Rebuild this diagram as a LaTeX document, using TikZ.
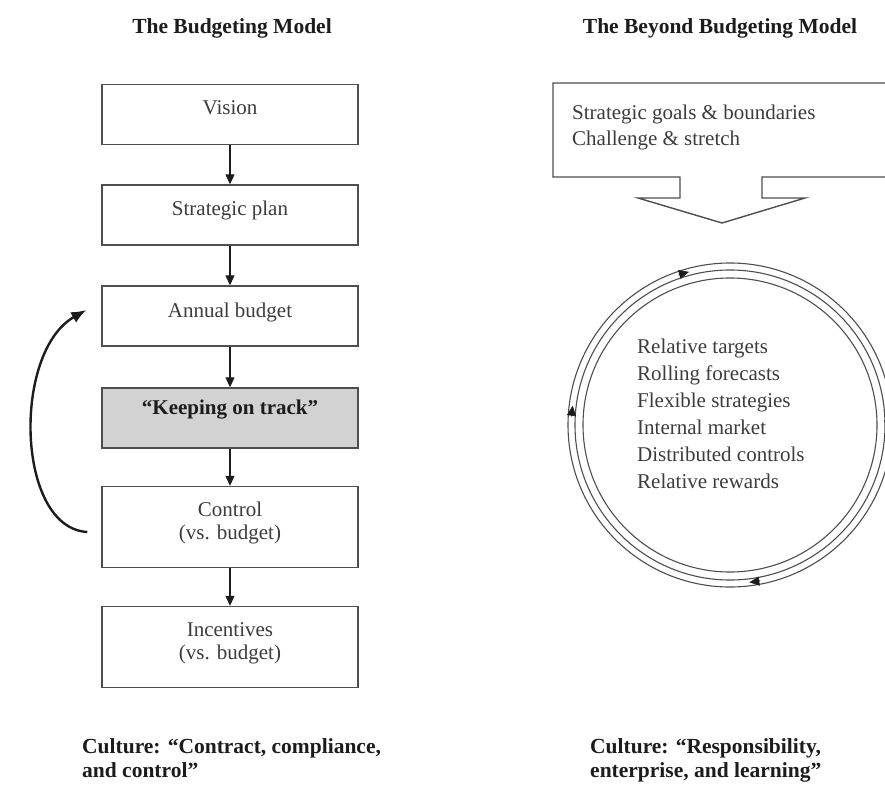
\documentclass[tikz,border=0pt]{standalone}
\usepackage{fontspec}
\setmainfont{Liberation Serif}
\usetikzlibrary{arrows.meta}

\definecolor{ink}{HTML}{3C3C3C}
\definecolor{rule}{HTML}{4E4E4E}
\definecolor{shade}{HTML}{D2D2D2}
\definecolor{dark}{HTML}{1C1C1C}

\begin{document}
\begin{tikzpicture}[x=1pt,y=-1pt,
  box/.style={draw=rule, line width=1.4pt, minimum width=256pt, minimum height=60pt, inner sep=0pt},
  tallbox/.style={box, minimum height=81pt},
  txt/.style={font=\fontsize{21}{26}\selectfont, text=ink, inner sep=0pt, anchor=base},
  listtxt/.style={txt, anchor=base west},
  head/.style={font=\fontsize{21.5}{26}\selectfont\bfseries, text=dark, inner sep=0pt, anchor=base},
  flow/.style={draw=dark, line width=1.1pt, -{Triangle[length=10pt,width=9pt]}},
  loopback/.style={draw=dark, line width=2.4pt, -{Latex[length=15pt,width=12pt]}},
  ring/.style={draw=rule, line width=1.1pt},
  ringtip/.style={draw=dark, line width=0.6pt, -{Triangle[length=10pt,width=9pt]}}
]
\useasboundingbox[fill=white] (0,0) rectangle (885,786);

% ---------- left column: the budgeting model ----------
\node[head] (lhead) at (232,34) {The Budgeting Model};

\node[box] (vision) at (230,114.5) {};
\node[box] (plan)   at (230,215) {};
\node[box] (annual) at (230,316) {};
\node[box, fill=shade] (keep) at (230,418) {};
\node[tallbox] (control) at (230,527) {};
\node[tallbox] (incent)  at (230,647) {};

\node[txt] (vision-t) at (230,115) {Vision};
\node[txt] (plan-t)   at (230,215) {Strategic plan};
\node[txt] (annual-t) at (230,317) {Annual budget};
\node[txt, font=\fontsize{21}{26}\selectfont\bfseries, text=dark] (keep-t) at (230,414) {“Keeping on track”};
\node[txt] (control-t1) at (230,516) {Control};
\node[txt] (control-t2) at (230,539) {(vs. budget)};
\node[txt] (incent-t1)  at (230,636) {Incentives};
\node[txt] (incent-t2)  at (230,659) {(vs. budget)};

\draw[flow] (vision) -- (plan);
\draw[flow] (plan) -- (annual);
\draw[flow] (annual) -- (keep);
\draw[flow] (keep) -- (control);
\draw[flow] (control) -- (incent);

% feedback loop from control back to the annual budget
\coordinate (loopstart) at ([xshift=-14pt,yshift=-5pt]control.west);
\coordinate (loopend)   at ([xshift=-15pt,yshift=6pt]annual.west);
\draw[loopback] (loopstart) .. controls (16,528) and (12,352) .. (loopend);

\node[head, anchor=base west] (lcult1) at (82,753) {Culture: “Contract, compliance,};
\node[head, anchor=base west] (lcult2) at (82,777) {and control”};

% ---------- right column: the beyond budgeting model ----------
\node[head] (rhead) at (720,34) {The Beyond Budgeting Model};

% block arrow pointing down towards the cycle
\draw[rule, line width=1.4pt, line join=miter]
  (895,83) -- (553,83) -- (553,177) -- (680,177) -- (680,198) -- (638,198)
  -- (722,223) -- (805,198) -- (762,198) -- (762,177) -- (895,177);
\node[listtxt] (goals)   at (572,120) {Strategic goals \& boundaries};
\node[listtxt] (stretch) at (572,146) {Challenge \& stretch};

% the continuous cycle
\coordinate (hub) at (730,425);
\begin{scope}[shift={(hub)}]
  \draw[ring] (0,0) circle[radius=162];
  \draw[ring] (0,0) circle[radius=155];
  \draw[ring] (0,0) circle[radius=147];
  \foreach \a in {255,2,83,187}
    \draw[ringtip] ({\a-4}:158.5) arc[start angle=\a-4, end angle=\a, radius=158.5];
\end{scope}

\node[listtxt] (l1) at (637,353) {Relative targets};
\node[listtxt] (l2) at (637,380) {Rolling forecasts};
\node[listtxt] (l3) at (637,407) {Flexible strategies};
\node[listtxt] (l4) at (637,434) {Internal market};
\node[listtxt] (l5) at (637,461) {Distributed controls};
\node[listtxt] (l6) at (637,488) {Relative rewards};

\node[head, anchor=base west] (rcult1) at (590,753) {Culture: “Responsibility,};
\node[head, anchor=base west] (rcult2) at (590,777) {enterprise, and learning”};
\end{tikzpicture}
\end{document}
